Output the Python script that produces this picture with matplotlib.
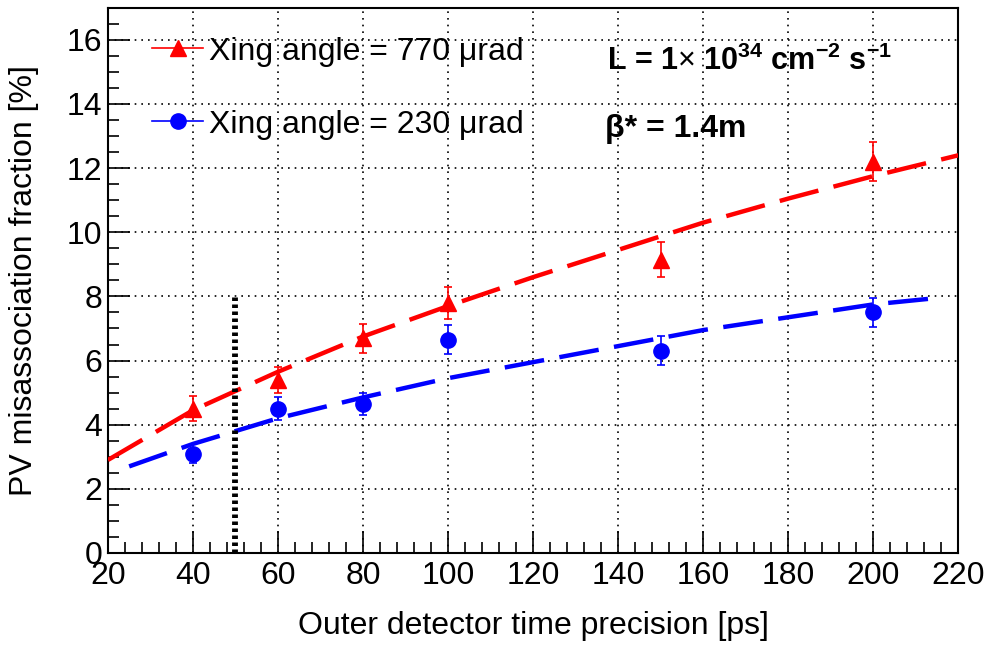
import matplotlib.pyplot as plt
from matplotlib.ticker import MultipleLocator

plt.rcParams['font.family'] = ['Liberation Sans', 'DejaVu Sans']
plt.rcParams['mathtext.fontset'] = 'custom'
plt.rcParams['mathtext.rm'] = 'Liberation Sans'
plt.rcParams['mathtext.bf'] = 'Liberation Sans:bold'

# measured points
x_pts = [40, 60, 80, 100, 150, 200]
y_770 = [4.5, 5.4, 6.7, 7.8, 9.15, 12.2]
e_770 = [0.4, 0.4, 0.45, 0.5, 0.55, 0.6]
y_230 = [3.1, 4.5, 4.65, 6.65, 6.3, 7.5]
e_230 = [0.3, 0.35, 0.35, 0.45, 0.45, 0.45]

# fit curves
xf_770 = [20, 40, 60, 80, 100, 120, 140, 160, 180, 200, 220]
yf_770 = [2.9, 4.45, 5.65, 6.75, 7.7, 8.6, 9.45, 10.3, 11.05, 11.75, 12.4]
xf_230 = [25, 40, 60, 80, 100, 120, 140, 160, 180, 200, 215]
yf_230 = [2.7, 3.4, 4.2, 4.85, 5.45, 5.95, 6.45, 6.95, 7.35, 7.75, 7.95]

# reference line
x_ref = [50, 50]
y_ref = [0, 8]

fig = plt.figure(figsize=(9.9, 6.46), dpi=100)
ax = fig.add_axes([0.109, 0.144, 0.859, 0.844])

ax.plot(xf_770, yf_770, color='#ff0000', lw=3.2, dashes=(9, 3.5), zorder=3)
ax.plot(xf_230, yf_230, color='#0000ff', lw=3.2, dashes=(9, 3.5), zorder=3)
ax.plot(x_ref, y_ref, color='k', lw=4.2, linestyle=(0, (0.6, 0.6)), zorder=4)

ax.errorbar(x_pts, y_770, yerr=e_770, fmt='^', color='#ff0000', ms=11,
            elinewidth=1.2, capsize=3, capthick=1.2, zorder=5)
ax.errorbar(x_pts, y_230, yerr=e_230, fmt='o', color='#0000ff', ms=11,
            elinewidth=1.2, capsize=3, capthick=1.2, zorder=5)

# legend handles
h1, = ax.plot([], [], '-^', color='#ff0000', ms=11, lw=1.2)
h2, = ax.plot([], [], '-o', color='#0000ff', ms=11, lw=1.2)
leg = ax.legend([h1, h2], ['Xing angle = 770 \u03bcrad', 'Xing angle = 230 \u03bcrad'],
                loc='upper left', bbox_to_anchor=(0.018, 1.0), frameon=False,
                fontsize=23, handlelength=1.6, labelspacing=1.35, handletextpad=0.2)
leg.set_zorder(6)

ax.text(0.587, 0.902, r'L = 1$\times$ 10$^{\mathbf{34}}$ cm$^{\mathbf{-2}}$ s$^{\mathbf{-1}}$',
        transform=ax.transAxes, fontsize=22, fontweight='bold', va='center')
ax.text(0.585, 0.778, '\u03b2* = 1.4m', transform=ax.transAxes, fontsize=23,
        fontweight='bold', va='center')

ax.set_xlim(20, 220)
ax.set_ylim(0, 17)
ax.xaxis.set_major_locator(MultipleLocator(20))
ax.xaxis.set_minor_locator(MultipleLocator(4))
ax.yaxis.set_major_locator(MultipleLocator(2))
ax.yaxis.set_minor_locator(MultipleLocator(0.5))
ax.tick_params(which='both', direction='in', labelsize=23, width=1.2)
ax.tick_params(which='major', length=16)
ax.tick_params(which='minor', length=8)
ax.tick_params(axis='x', pad=6)
ax.tick_params(axis='y', pad=4)
ax.grid(True, which='major', color='k', linestyle=(0, (1, 3)), lw=1.2)
for s in ax.spines.values():
    s.set_linewidth(1.5)

ax.set_xlabel('Outer detector time precision [ps]', fontsize=23, labelpad=14)
ax.set_ylabel('PV misassociation fraction [%]', fontsize=23, labelpad=20)

fig.savefig('out.png', dpi=100)
